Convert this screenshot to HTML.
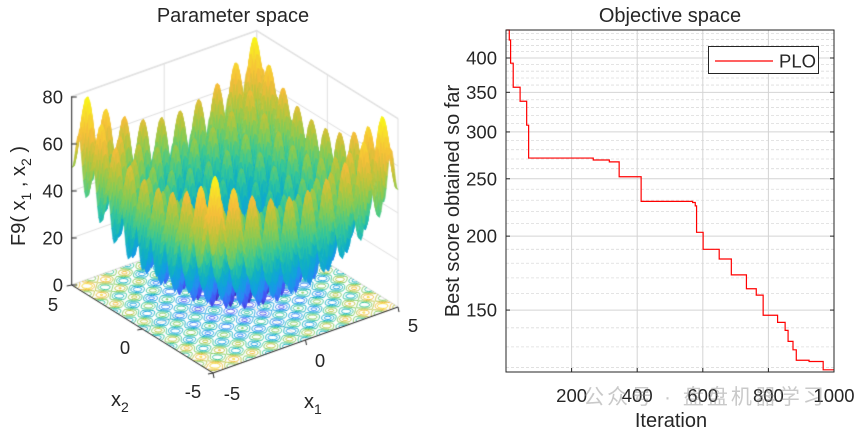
<!DOCTYPE html>
<html><head><meta charset="utf-8">
<style>
html,body{margin:0;padding:0;background:#fff;}
#wrap{position:relative;width:855px;height:432px;overflow:hidden;font-family:"Liberation Sans",Arial,sans-serif;}
canvas,svg{position:absolute;left:0;top:0;}
</style></head>
<body>
<div id="wrap">
<canvas id="surf" width="855" height="432"></canvas>
<svg id="ov" width="855" height="432"></svg>
</div>
<script>
// ----- Objective-space data -----
const changeIters = [1,10,14,22,43,63,69,266,315,345,412,569,577,581,601,650,687,733,763,784,828,851,860,875,885,924,967];
const bestScores = [446,429,392,357,338,308,271,269,267,252,229,228,225,203,190,183,172,163,159,147,143,138.6,132.8,128.5,123.4,122.8,118.9];
const xTicks = [200,400,600,800,1000];
const yTicks = [150,200,250,300,350,400];
const zTicks = [0,20,40,60,80];
const maxIter = 1000;

const TF=18.5, LF=20;
const NS="http://www.w3.org/2000/svg";
const svg=document.getElementById('ov');
function mk(tag,attrs,parent){const e=document.createElementNS(NS,tag);for(const k in attrs)e.setAttribute(k,attrs[k]);(parent||svg).appendChild(e);return e;}
function txt(s,x,y,size,anchor,parent,extra){const e=mk('text',Object.assign({x:x,y:y,'font-size':size,'text-anchor':anchor||'middle',fill:'#262626','font-family':'"Liberation Sans",Arial,sans-serif'},extra||{}),parent);e.textContent=s;return e;}

const AX={l:506,r:834,t:30,b:372};
const xs=it=>AX.l+it/maxIter*(AX.r-AX.l);
const ys=v=>58-257*Math.log(v/400);
const g=mk('g',{});


for(let v=120;v<=440;v+=10){ if(yTicks.includes(v))continue;
  const l=mk('line',{x1:AX.l,x2:AX.r,y1:ys(v),y2:ys(v),stroke:'#dcdcdc','stroke-width':0.8,'stroke-dasharray':'3,2'},g);
  }
for(const v of yTicks){const l=mk('line',{x1:AX.l,x2:AX.r,y1:ys(v),y2:ys(v),stroke:'#d4d4d4','stroke-width':1},g);
  
  const t=txt(String(v),497,ys(v)+6.5,TF,'end',g);
  mk('line',{x1:AX.l,x2:AX.l+4,y1:ys(v),y2:ys(v),stroke:'#262626'},g);mk('line',{x1:AX.r,x2:AX.r-4,y1:ys(v),y2:ys(v),stroke:'#262626'},g);}
for(const v of xTicks){const l=mk('line',{x1:xs(v),x2:xs(v),y1:AX.t,y2:AX.b,stroke:'#d4d4d4','stroke-width':1},g);
  
  const t=txt(String(v),xs(v),402,TF,'middle',g);
  mk('line',{x1:xs(v),x2:xs(v),y1:AX.b,y2:AX.b-4,stroke:'#262626'},g);}
let d='M'+xs(changeIters[0])+','+ys(bestScores[0]);
for(let i=1;i<changeIters.length;i++){d+=' H'+xs(changeIters[i])+' V'+ys(bestScores[i]);}
d+=' H'+xs(maxIter);
const line=mk('path',{d:d,fill:'none',stroke:'#ff0000','stroke-width':1.2},g);

const box=mk('rect',{x:AX.l,y:AX.t,width:AX.r-AX.l,height:AX.b-AX.t,fill:'none',stroke:'#262626','stroke-width':1},g);

const lg=mk('g',{},g);
mk('rect',{x:708.5,y:46.5,width:110,height:27,fill:'#fff',stroke:'#262626','stroke-width':1},lg);
mk('line',{x1:715,x2:773,y1:61,y2:61,stroke:'#ff0000','stroke-width':1.2},lg);
const lt=txt('PLO',779,67.5,TF,'start',lg);
let t;
t=txt('Objective space',670,22,LF,'middle');
t=txt('Iteration',671,427,LF,'middle');
t=txt('Best score obtained so far',0,0,LF,'middle',svg,{transform:'translate(459,201) rotate(-90)'});
t=txt('公众号 · 盘盘机器学习',705,404,21,'middle',svg,{fill:'#888','fill-opacity':0.45,'letter-spacing':'3','font-family':'"Liberation Sans","Noto Sans CJK SC",sans-serif'});


const B=[213,373],R=[398,307],L=[71.7,285];
const ZS=2.35;
function P(x1,x2,z){const a=(x1+5)/10,b=(x2+5)/10;return [B[0]+a*(R[0]-B[0])+b*(L[0]-B[0]),B[1]+a*(R[1]-B[1])+b*(L[1]-B[1])-z*ZS];}
const F=(x,y)=>20+x*x+y*y-10*(Math.cos(2*Math.PI*x)+Math.cos(2*Math.PI*y));
const par=[[0.2422,0.1504,0.6603],[0.2810,0.3228,0.9579],[0.1786,0.5289,0.9682],[0.0689,0.6279,0.8790],[0.0641,0.6927,0.7634],[0.2161,0.7843,0.5923],[0.5044,0.7993,0.3480],[0.7500,0.7700,0.2300],[0.9600,0.7400,0.2300],[0.9704,0.8528,0.1854],[0.9769,0.9839,0.0805]];
function col(v){v=Math.max(0,Math.min(1,v))*10;const i=Math.min(9,Math.floor(v)),f=v-i;const a=par[i],b=par[i+1];
 return 'rgb('+[0,1,2].map(k=>Math.round(255*(a[k]+(b[k]-a[k])*f))).join(',')+')';}
const ZMAX=80.5;
const cv=document.getElementById('surf'),c=cv.getContext('2d');
c.fillStyle='#fff';c.fillRect(0,0,855,432);
function ln(p,q,s,w){c.strokeStyle=s;c.lineWidth=w||1;c.beginPath();c.moveTo(p[0],p[1]);c.lineTo(q[0],q[1]);c.stroke();}
const gc='#e0e0e0';
for(const z of zTicks){ln(P(-5,5,z),P(5,5,z),gc);ln(P(5,5,z),P(5,-5,z),gc);}
ln(P(-5,5,80.3),P(5,5,80.3),gc);ln(P(5,5,80.3),P(5,-5,80.3),gc);
for(const v of [-5,0,5]){ln(P(v,5,0),P(v,5,80.3),gc);ln(P(5,v,0),P(5,v,80.3),gc);ln(P(v,-5,0),P(v,5,0),gc);ln(P(-5,v,0),P(5,v,0),gc);}
const N=200,h=10/N;const grid=[];
for(let i=0;i<=N;i++){grid[i]=[];for(let j=0;j<=N;j++)grid[i][j]=F(-5+i*h,-5+j*h);}
c.lineWidth=1;
for(let lev=8;lev<80;lev+=8){c.strokeStyle=col(lev/ZMAX);c.beginPath();
 for(let i=0;i<N;i++)for(let j=0;j<N;j++){
  const v=[grid[i][j],grid[i+1][j],grid[i+1][j+1],grid[i][j+1]];
  const pts=[[i,j],[i+1,j],[i+1,j+1],[i,j+1]];const cr=[];
  for(let k=0;k<4;k++){const a=v[k],b=v[(k+1)%4];if((a<lev)!=(b<lev)){const f=(lev-a)/(b-a);const p=pts[k],q=pts[(k+1)%4];
    cr.push([-5+(p[0]+(q[0]-p[0])*f)*h,-5+(p[1]+(q[1]-p[1])*f)*h]);}}
  for(let k=0;k+1<cr.length;k+=2){const A=P(cr[k][0],cr[k][1],0),Bp=P(cr[k+1][0],cr[k+1][1],0);c.moveTo(A[0],A[1]);c.lineTo(Bp[0],Bp[1]);}
 }c.stroke();}
const M=120,hs=10/M;const zg=[];
for(let i=0;i<=M;i++){zg[i]=[];for(let j=0;j<=M;j++)zg[i][j]=F(-5+i*hs,-5+j*hs);}
for(let s=2*M-2;s>=0;s--){for(let i=Math.max(0,s-(M-1));i<=Math.min(M-1,s);i++){const j=s-i;
  const x0=-5+i*hs,y0=-5+j*hs;
  const q=[P(x0,y0,zg[i][j]),P(x0+hs,y0,zg[i+1][j]),P(x0+hs,y0+hs,zg[i+1][j+1]),P(x0,y0+hs,zg[i][j+1])];
  const zm=(zg[i][j]+zg[i+1][j]+zg[i+1][j+1]+zg[i][j+1])/4;const cc=col(zm/ZMAX);
  c.fillStyle=cc;c.strokeStyle=cc;c.lineWidth=0.6;c.beginPath();c.moveTo(q[0][0],q[0][1]);for(let k=1;k<4;k++)c.lineTo(q[k][0],q[k][1]);c.closePath();c.fill();c.stroke();}}
const ak='#262626';
ln(P(-5,5,0),P(-5,5,80.3),ak);
ln(P(-5,5,0),P(-5,-5,0),ak);ln(P(-5,-5,0),P(5,-5,0),ak);
for(const z of zTicks){const p=P(-5,5,z);ln(p,[p[0]+5,p[1]],ak);}
for(const v of [-5,0,5]){const p=P(-5,v,0);ln(p,[p[0]-5,p[1]+1],ak);const q=P(v,-5,0);ln(q,[q[0]+1,q[1]+5],ak);}
const lg3=mk('g',{});
for(const z of zTicks){const p=P(-5,5,z);t=txt(String(z),63,p[1]+6.5,TF,'end',lg3);}
const x2lab=[[5,53,311],[0,125,354],[-5,193,398]];
for(const a of x2lab){t=txt(String(a[0]),a[1],a[2],TF,'middle',lg3);}
const x1lab=[[-5,232,400],[0,320,367],[5,413,332]];
for(const a of x1lab){t=txt(String(a[0]),a[1],a[2],TF,'middle',lg3);}
t=txt('Parameter space',233,22,LF,'middle',lg3);
t=mk('text',{x:111,y:406,'font-size':LF,fill:'#262626','font-family':'"Liberation Sans",Arial,sans-serif'},lg3);t.innerHTML='x<tspan font-size="14" dy="6">2</tspan>';

t=mk('text',{x:304,y:408,'font-size':LF,fill:'#262626','font-family':'"Liberation Sans",Arial,sans-serif'},lg3);t.innerHTML='x<tspan font-size="14" dy="6">1</tspan>';

t=mk('text',{transform:'translate(25,246) rotate(-90)','font-size':LF,fill:'#262626','font-family':'"Liberation Sans",Arial,sans-serif'},lg3);
t.innerHTML='F9( x<tspan font-size="14" dy="6">1</tspan><tspan dy="-6"> , x</tspan><tspan font-size="14" dy="6">2</tspan><tspan dy="-6"> )</tspan>';

</script>
</body></html>
